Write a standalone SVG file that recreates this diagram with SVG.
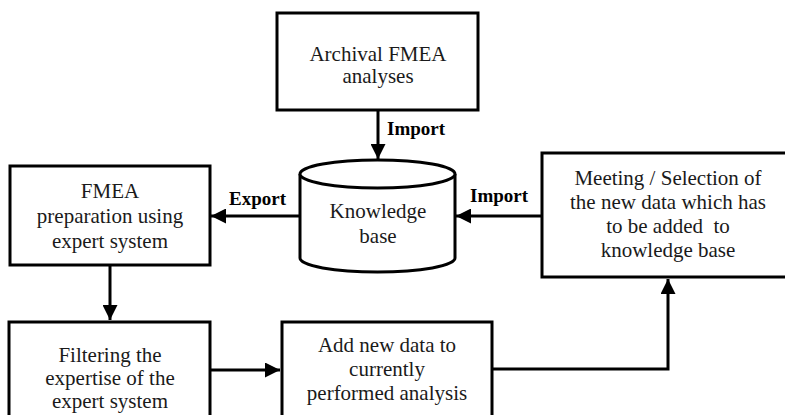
<svg xmlns="http://www.w3.org/2000/svg" width="785" height="415" viewBox="0 0 785 415">
<style>
.box{fill:#fff;stroke:#000;stroke-width:3}
.t{font-family:'Liberation Serif','Times New Roman','DejaVu Serif',serif;font-size:21px;fill:#1a1a1a;text-anchor:middle}
.lb{font-family:'Liberation Serif','Times New Roman','DejaVu Serif',serif;font-size:19px;font-weight:bold;fill:#000}
.c{fill:none;stroke:#000;stroke-width:3}
</style>
<defs>
<marker id="ah" viewBox="0 0 10 10" refX="10" refY="5" markerWidth="5" markerHeight="5" markerUnits="strokeWidth" orient="auto">
<path d="M0,0 L10,5 L0,10 Z" fill="#000"/>
</marker>
</defs>
<g id="archival">
<rect class="box" x="277" y="13" width="201" height="97"/>
<text class="t" x="378" y="61">Archival FMEA</text>
<text class="t" x="378" y="83">analyses</text>
</g>
<g id="kb">
<path class="box" d="M300,174 L300,258 A77.5,14 0 0 0 455,258 L455,174"/>
<ellipse class="box" cx="377.5" cy="174" rx="77.5" ry="14"/>
<text class="t" x="378" y="218">Knowledge</text>
<text class="t" x="378" y="243">base</text>
</g>
<g id="fmea">
<rect class="box" x="10" y="166" width="200" height="99"/>
<text class="t" x="110" y="198">FMEA</text>
<text class="t" x="110" y="223">preparation using</text>
<text class="t" x="110" y="248">expert system</text>
</g>
<g id="meeting">
<rect class="box" x="542" y="153" width="246" height="124"/>
<text class="t" x="668" y="185">Meeting / Selection of</text>
<text class="t" x="668" y="209">the new data which has</text>
<text class="t" x="668" y="233" xml:space="preserve">to be added  to</text>
<text class="t" x="668" y="257">knowledge base</text>
</g>
<g id="filtering">
<rect class="box" x="9" y="322" width="201" height="100"/>
<text class="t" x="110" y="362">Filtering the</text>
<text class="t" x="110" y="385">expertise of the</text>
<text class="t" x="110" y="408">expert system</text>
</g>
<g id="addnew">
<rect class="box" x="282" y="322" width="210" height="100"/>
<text class="t" x="387" y="352">Add new data to</text>
<text class="t" x="387" y="376">currently</text>
<text class="t" x="387" y="400">performed analysis</text>
</g>
<g id="connectors">
<line class="c" x1="378" y1="110" x2="378" y2="159" marker-end="url(#ah)"/>
<text class="lb" x="387" y="135">Import</text>
<line class="c" x1="300" y1="216" x2="211" y2="216" marker-end="url(#ah)"/>
<text class="lb" x="229" y="205">Export</text>
<line class="c" x1="542" y1="216" x2="456" y2="216" marker-end="url(#ah)"/>
<text class="lb" x="470" y="202">Import</text>
<line class="c" x1="110" y1="265" x2="110" y2="320" marker-end="url(#ah)"/>
<line class="c" x1="210" y1="370" x2="280" y2="370" marker-end="url(#ah)"/>
<polyline class="c" points="492,369 668,369 668,279" marker-end="url(#ah)"/>
</g>
</svg>
